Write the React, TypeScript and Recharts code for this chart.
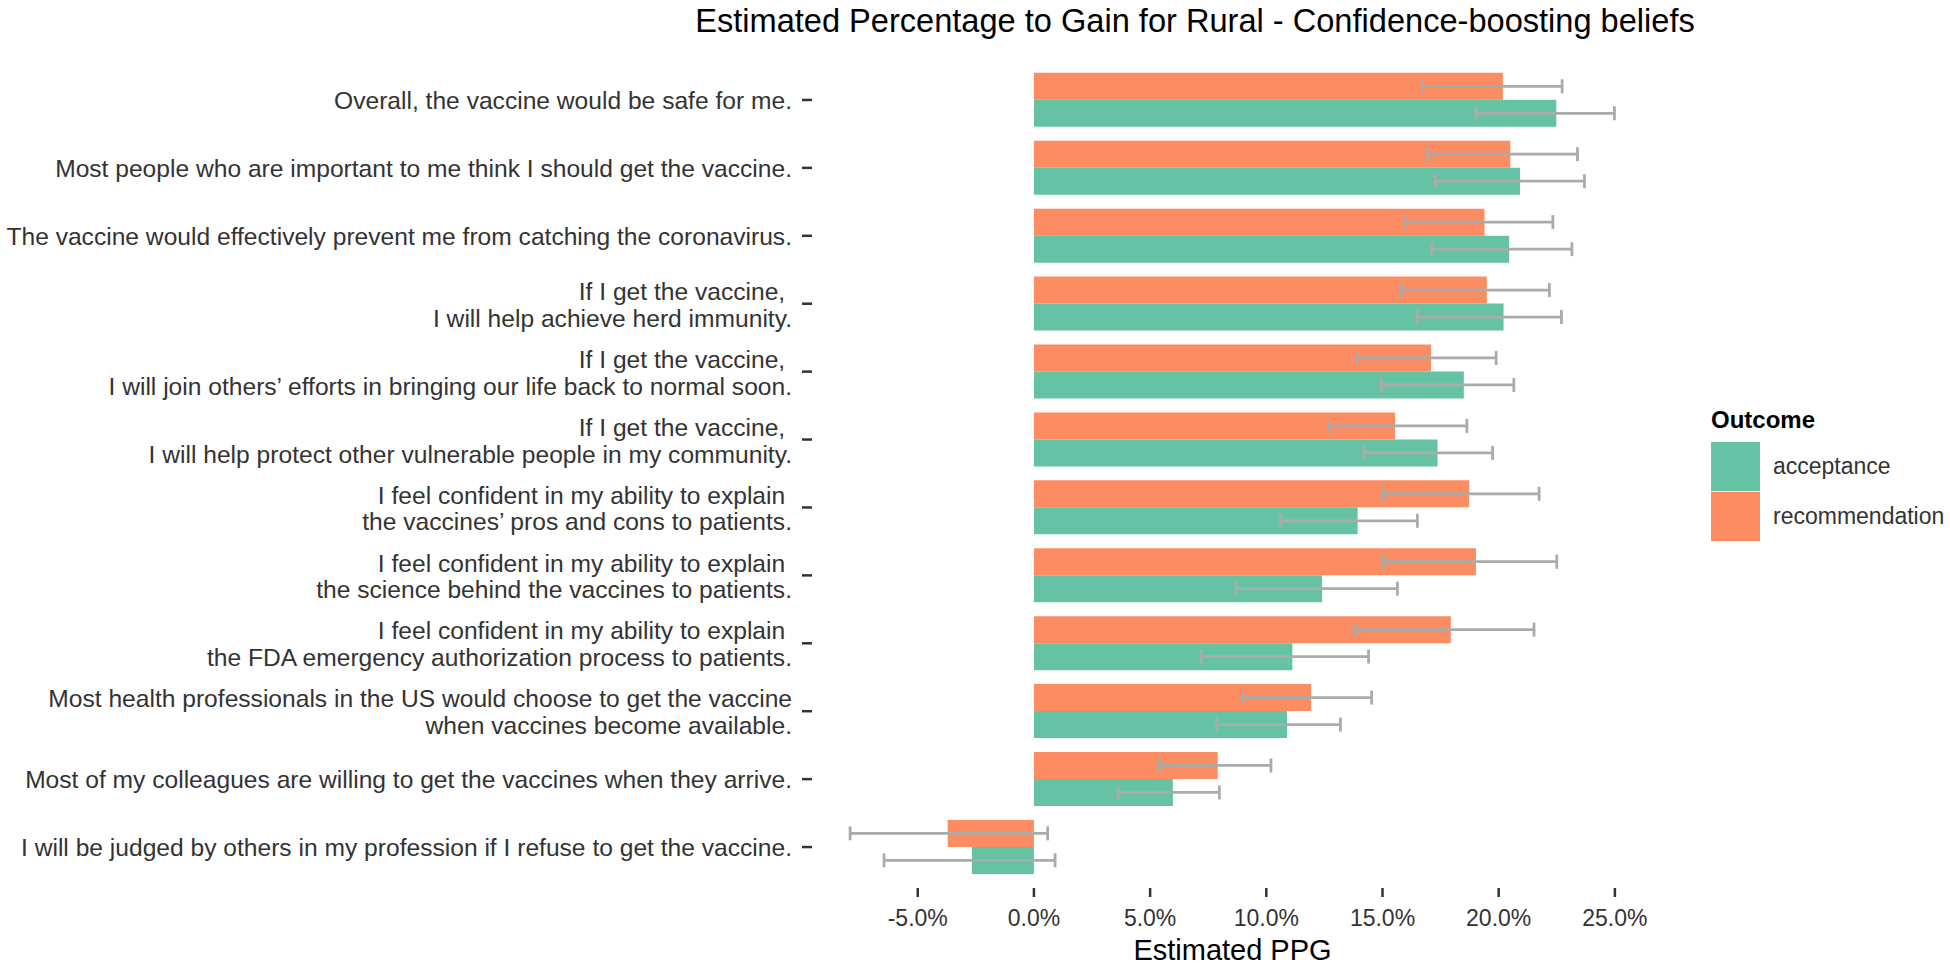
import { BarChart, Bar, XAxis, YAxis, ErrorBar } from "recharts";

// statements, top to bottom ("\n" marks the line break used in the original)
const statements = [
  "Overall, the vaccine would be safe for me.",
  "Most people who are important to me think I should get the vaccine.",
  "The vaccine would effectively prevent me from catching the coronavirus.",
  "If I get the vaccine, \nI will help achieve herd immunity.",
  "If I get the vaccine, \nI will join others’ efforts in bringing our life back to normal soon.",
  "If I get the vaccine, \nI will help protect other vulnerable people in my community.",
  "I feel confident in my ability to explain \nthe vaccines’ pros and cons to patients.",
  "I feel confident in my ability to explain \nthe science behind the vaccines to patients.",
  "I feel confident in my ability to explain \nthe FDA emergency authorization process to patients.",
  "Most health professionals in the US would choose to get the vaccine\nwhen vaccines become available.",
  "Most of my colleagues are willing to get the vaccines when they arrive.",
  "I will be judged by others in my profession if I refuse to get the vaccine.",
];

// estimated PPG in %, with lower / upper interval bounds
const acceptance = [22.48, 20.92, 20.45, 20.21, 18.5, 17.37, 13.93, 12.4, 11.12, 10.89, 5.98, -2.67];
const acceptanceLow = [19.02, 17.27, 17.12, 16.5, 14.95, 14.2, 10.62, 8.7, 7.19, 7.86, 3.63, -6.45];
const acceptanceHigh = [24.98, 23.69, 23.15, 22.7, 20.65, 19.74, 16.5, 15.64, 14.4, 13.19, 7.98, 0.91];

const recommendation = [20.18, 20.5, 19.39, 19.49, 17.09, 15.54, 18.73, 19.02, 17.94, 11.93, 7.91, -3.71];
const recommendationLow = [16.72, 16.95, 15.96, 15.81, 13.88, 12.67, 15.04, 15.04, 13.81, 8.97, 5.41, -7.91];
const recommendationHigh = [22.73, 23.39, 22.33, 22.18, 19.89, 18.63, 21.74, 22.5, 21.52, 14.53, 10.2, 0.59];

const xTicks = [-5, 0, 5, 10, 15, 20, 25];

const legendItems = [
  { name: "acceptance", color: "#66C2A5" },
  { name: "recommendation", color: "#FC8D62" },
];

const FONT = "'Liberation Sans', Arial, Helvetica, sans-serif";
const TEXT = "#333333";

const rows = statements.map((s, i) => ({
  statement: s,
  acceptance: acceptance[i],
  accErr: [acceptance[i] - acceptanceLow[i], acceptanceHigh[i] - acceptance[i]],
  recommendation: recommendation[i],
  recErr: [recommendation[i] - recommendationLow[i], recommendationHigh[i] - recommendation[i]],
}));

const StatementTick = ({ x, y, payload }: any) => {
  const lines = String(payload.value).split("\n");
  const dys = lines.length === 1 ? [8.8] : [-3.8, 23];
  return (
    <text
      x={x}
      y={y}
      textAnchor="end"
      fontFamily={FONT}
      fontSize={24.6}
      fill={TEXT}
      style={{ whiteSpace: "pre" }}
    >
      {lines.map((line, i) => (
        <tspan key={i} x={x} y={y + dys[i]}>
          {line}
        </tspan>
      ))}
    </text>
  );
};

export default function App() {
  return (
    <div style={{ position: "absolute", left: 0, top: 0, width: 1950, height: 967, background: "#fff" }}>
      <BarChart
        width={1950}
        height={967}
        data={rows}
        layout="vertical"
        margin={{ top: 59, right: 297, bottom: 0, left: 0 }}
        barCategoryGap="10%"
        barGap={0}
      >
        <XAxis
          type="number"
          domain={[-9.55, 26.64]}
          ticks={xTicks}
          tickFormatter={(v: number) => `${v.toFixed(1)}%`}
          axisLine={false}
          tickLine={{ stroke: "#333", strokeWidth: 2.5 }}
          tickSize={9}
          tickMargin={13}
          height={79}
          tick={{ fontSize: 23, fill: TEXT, fontFamily: FONT }}
          label={{
            value: "Estimated PPG",
            position: "insideBottom",
            offset: 7,
            fontSize: 29,
            fill: "#000",
            fontFamily: FONT,
          }}
        />
        <YAxis
          type="category"
          dataKey="statement"
          width={812}
          interval={0}
          axisLine={false}
          tickLine={{ stroke: "#333", strokeWidth: 2.5 }}
          tickSize={10}
          tickMargin={10}
          padding={{ top: 7, bottom: 7 }}
          tick={<StatementTick />}
        />
        <Bar dataKey="recommendation" fill="#FC8D62" isAnimationActive={false}>
          <ErrorBar dataKey="recErr" direction="x" width={7} stroke="#ABABAB" strokeWidth={2.8} />
        </Bar>
        <Bar dataKey="acceptance" fill="#66C2A5" isAnimationActive={false}>
          <ErrorBar dataKey="accErr" direction="x" width={7} stroke="#ABABAB" strokeWidth={2.8} />
        </Bar>
      </BarChart>

      <svg
        width={1950}
        height={967}
        style={{ position: "absolute", left: 0, top: 0, pointerEvents: "none" }}
      >
        <text x={1195} y={31.7} textAnchor="middle" fontFamily={FONT} fontSize={32.6} fill="#000">
          Estimated Percentage to Gain for Rural - Confidence-boosting beliefs
        </text>
        <text x={1711} y={428} fontFamily={FONT} fontSize={24} fontWeight="bold" fill="#000">
          Outcome
        </text>
        {legendItems.map((item, i) => (
          <g key={item.name}>
            <rect x={1711} y={442 + i * 50} width={49} height={49} fill={item.color} />
            <text x={1773} y={474 + i * 50} fontFamily={FONT} fontSize={23} fill={TEXT}>
              {item.name}
            </text>
          </g>
        ))}
      </svg>
    </div>
  );
}
